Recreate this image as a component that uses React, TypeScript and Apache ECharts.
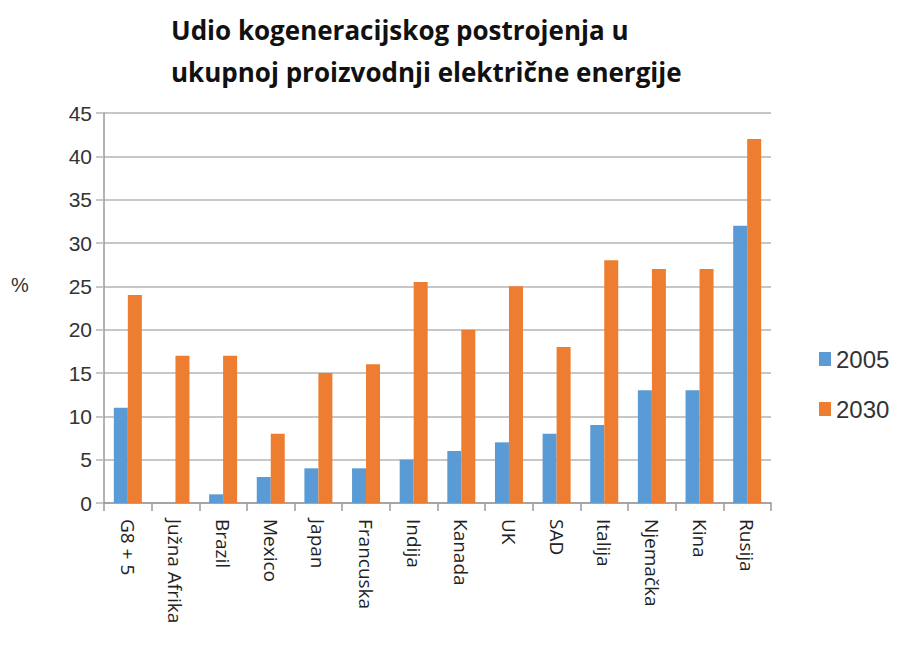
import React, { useEffect, useRef } from "react";
import * as echarts from "echarts";

const categories = ["G8 + 5", "Južna Afrika", "Brazil", "Mexico", "Japan", "Francuska", "Indija", "Kanada", "UK", "SAD", "Italija", "Njemačka", "Kina", "Rusija"];
const values2005 = [11, 0, 1, 3, 4, 4, 5, 6, 7, 8, 9, 13, 13, 32];
const values2030 = [24, 17, 17, 8, 15, 16, 25.5, 20, 25, 18, 28, 27, 27, 42];
const yTicks = [0, 5, 10, 15, 20, 25, 30, 35, 40, 45];

export default function App() {
  const ref = useRef<HTMLDivElement>(null);
  useEffect(() => {
    if (!ref.current) return;
    const chart = echarts.init(ref.current, null, { renderer: "svg" });
    chart.setOption({
      animation: false,
      backgroundColor: "#ffffff",
      title: {
        text: "Udio kogeneracijskog postrojenja u\nukupnoj proizvodnji električne energije",
        left: 166,
        top: 4,
        textStyle: { fontFamily: "Open Sans", fontWeight: "bold", fontSize: 26, color: "#111", lineHeight: 42 },
      },
      graphic: [
        { type: "text", left: 11, top: 275, style: { text: "%", fontFamily: "Liberation Sans", fontSize: 20, fill: "#333" } },
      ],
      legend: {
        orient: "vertical",
        left: 814,
        top: 342,
        itemWidth: 12,
        itemHeight: 14,
        itemGap: 26,
        icon: "rect",
        textStyle: { fontFamily: "Liberation Sans", fontSize: 24, color: "#333" },
        data: ["2005", "2030"],
      },
      grid: { left: 104, right: 129, top: 113, bottom: 150, containLabel: false },
      xAxis: {
        type: "category",
        data: categories,
        axisLine: { lineStyle: { color: "#9a9a9a", width: 1.5 } },
        axisTick: { show: true, length: 8, interval: 0, lineStyle: { color: "#9a9a9a", width: 1.5 } },
        axisLabel: { rotate: -90, interval: 0, margin: 16, fontFamily: "Open Sans", fontSize: 19, color: "#222" },
      },
      yAxis: {
        type: "value",
        min: 0,
        max: yTicks[yTicks.length - 1],
        interval: 5,
        axisLine: { show: true, lineStyle: { color: "#9a9a9a", width: 1.5 } },
        axisTick: { show: true, length: 8, lineStyle: { color: "#b5b5b5", width: 1.5 } },
        axisLabel: { margin: 12, fontFamily: "Liberation Sans", fontSize: 21, color: "#333" },
        splitLine: { show: true, lineStyle: { color: "#b5b5b5", width: 1.5 } },
      },
      series: [
        { name: "2005", type: "bar", data: values2005, barWidth: 14, barGap: "0%", itemStyle: { color: "#5b9bd5" } },
        { name: "2030", type: "bar", data: values2030, barWidth: 14, barGap: "0%", itemStyle: { color: "#ed7d31" } },
      ],
    });
    return () => chart.dispose();
  }, []);
  return <div ref={ref} style={{ width: 900, height: 653, position: "fixed", left: 0, top: 0 }} />;
}
